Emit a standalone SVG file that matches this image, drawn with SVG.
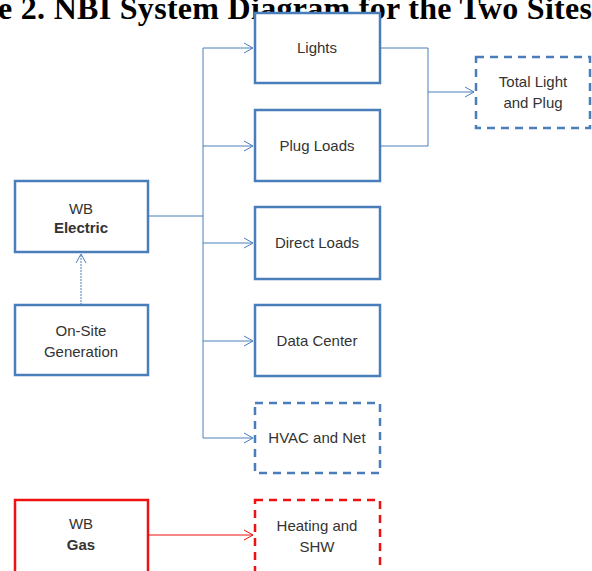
<svg xmlns="http://www.w3.org/2000/svg" width="592" height="571" viewBox="0 0 592 571">
<defs>
<style>
.box{fill:#fff;stroke:#4a7ebb;stroke-width:2.5}
.dbox{fill:#fff;stroke:#4a7ebb;stroke-width:2.5;stroke-dasharray:8 6}
.rbox{fill:#fff;stroke:#ee1111;stroke-width:2.5}
.rdbox{fill:#fff;stroke:#ee1111;stroke-width:2.5;stroke-dasharray:8 6}
.t{font-family:"Liberation Sans",Arial,sans-serif;font-size:15px;fill:#333;text-anchor:middle}
.b{font-weight:bold}
.c{fill:none;stroke:#4a7ebb;stroke-width:1}
.rc{fill:none;stroke:#ee1111;stroke-width:1}
.title{font-family:"Liberation Serif","Times New Roman",serif;font-weight:bold;font-size:32px;fill:#000}
</style>
<marker id="a" markerWidth="12" markerHeight="12" refX="10" refY="6" orient="auto" markerUnits="userSpaceOnUse">
<path d="M1,1 L10,6 L1,11" fill="none" stroke="#4a7ebb" stroke-width="1"/>
</marker>
<marker id="ar" markerWidth="12" markerHeight="12" refX="10" refY="6" orient="auto" markerUnits="userSpaceOnUse">
<path d="M1,1 L10,6 L1,11" fill="none" stroke="#ee1111" stroke-width="1"/>
</marker>
</defs>
<rect width="592" height="571" fill="#fff"/>
<text class="title" x="-2" y="19" textLength="594" lengthAdjust="spacing">e 2. NBI System Diagram for the Two Sites</text>
<g id="connectors">
<path class="c" d="M148,216 H203"/>
<path class="c" d="M203,48 V438"/>
<path class="c" d="M203,48 H253" marker-end="url(#a)"/>
<path class="c" d="M203,146 H253" marker-end="url(#a)"/>
<path class="c" d="M203,243 H253" marker-end="url(#a)"/>
<path class="c" d="M203,341 H253" marker-end="url(#a)"/>
<path class="c" d="M203,438 H253" marker-end="url(#a)"/>
<path class="c" d="M380,48 H428 V146 H380"/>
<path class="c" d="M428,92 H474" marker-end="url(#a)"/>
<path class="c" d="M81,305 V254" stroke-dasharray="2 1" marker-end="url(#a)"/>
<path class="rc" d="M148,535 H253" marker-end="url(#ar)"/>
</g>
<g id="lights"><rect class="box" x="255" y="13" width="125" height="70"/><text class="t" x="317" y="53">Lights</text></g>
<g id="plug-loads"><rect class="box" x="255" y="110" width="125" height="71"/><text class="t" x="317" y="151">Plug Loads</text></g>
<g id="direct-loads"><rect class="box" x="255" y="207" width="125" height="72"/><text class="t" x="317" y="248">Direct Loads</text></g>
<g id="data-center"><rect class="box" x="255" y="305" width="125" height="71"/><text class="t" x="317" y="346">Data Center</text></g>
<g id="hvac"><rect class="dbox" x="255" y="403" width="125" height="70"/><text class="t" x="317" y="443">HVAC and Net</text></g>
<g id="heating"><rect class="rdbox" x="255" y="500" width="125" height="80"/><text class="t" x="317" y="531">Heating and</text><text class="t" x="317" y="552">SHW</text></g>
<g id="total"><rect class="dbox" x="476" y="57" width="114" height="71"/><text class="t" x="533" y="87">Total Light</text><text class="t" x="533" y="108">and Plug</text></g>
<g id="wb-electric"><rect class="box" x="15" y="181" width="133" height="71"/><text class="t" x="81" y="214">WB</text><text class="t b" x="81" y="233">Electric</text></g>
<g id="onsite"><rect class="box" x="15" y="305" width="133" height="70"/><text class="t" x="81" y="336">On-Site</text><text class="t" x="81" y="357">Generation</text></g>
<g id="wb-gas"><rect class="rbox" x="15" y="500" width="133" height="80"/><text class="t" x="81" y="529">WB</text><text class="t b" x="81" y="550">Gas</text></g>
</svg>
